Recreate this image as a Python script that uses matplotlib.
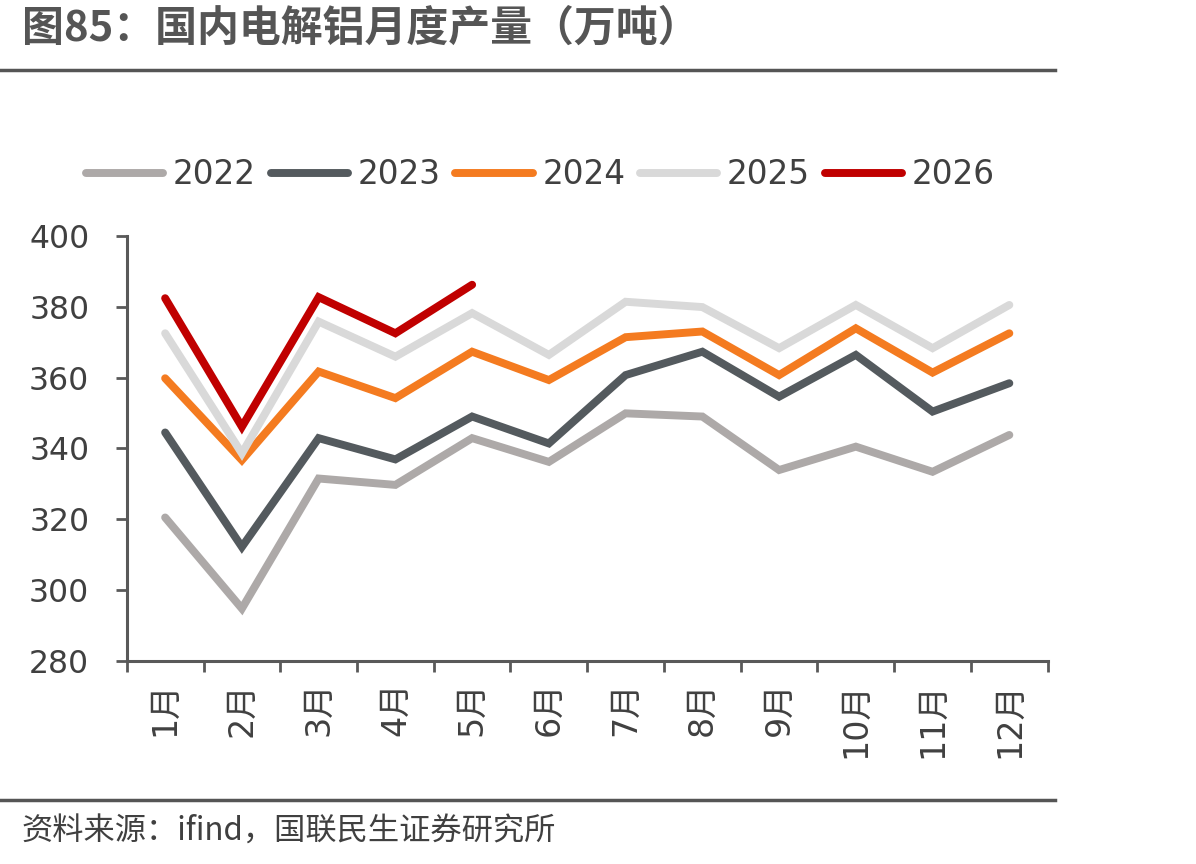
import matplotlib
matplotlib.use("Agg")
import matplotlib.pyplot as plt
from matplotlib.lines import Line2D

plt.rcParams['font.family'] = ['Noto Sans CJK SC', 'DejaVu Sans']
NUMFONT = ['DejaVu Sans', 'Noto Sans CJK SC']  # wide digits, CJK fallback

# data ---------------------------------------------------------------
months = ["1月", "2月", "3月", "4月", "5月", "6月",
          "7月", "8月", "9月", "10月", "11月", "12月"]
years = ["2022", "2023", "2024", "2025", "2026"]

y2022 = [320.5, 294.8, 331.5, 329.7, 342.9, 336.2, 349.9, 349.0, 333.9, 340.5, 333.4, 343.8]
y2023 = [344.5, 312.2, 342.9, 336.9, 349.0, 341.4, 360.7, 367.3, 354.6, 366.4, 350.4, 358.4]
y2024 = [359.8, 336.7, 361.7, 354.2, 367.3, 359.3, 371.4, 373.0, 360.7, 373.9, 361.4, 372.5]
y2025 = [372.5, 338.6, 375.8, 365.9, 378.2, 366.4, 381.4, 379.9, 368.3, 380.5, 368.3, 380.5]
y2026 = [382.4, 346.1, 382.7, 372.5, 386.2]

series = [y2022, y2023, y2024, y2025, y2026]
colors = ["#ADA9A8", "#545A5E", "#F47B20", "#D9D9D9", "#C00000"]

ytick_vals = [280, 300, 320, 340, 360, 380, 400]

# figure -------------------------------------------------------------
fig = plt.figure(figsize=(11.96, 8.64), dpi=100)
ax = fig.add_axes([0.106, 0.235, 0.770, 0.492])

x = list(range(1, 13))
for vals, c in zip(series, colors):
    ax.plot(x[:len(vals)], vals, color=c, lw=5.7, solid_joinstyle='miter',
            solid_capstyle='round')

ax.set_xlim(0.5, 12.5)
ax.set_ylim(280, 400)
ax.set_yticks(ytick_vals)
ax.set_yticklabels([str(v) for v in ytick_vals], family=NUMFONT, fontsize=22.7,
                   color="#404040")

ax.set_xticks(x)
ax.set_xticklabels(months, rotation=90, family=NUMFONT, fontsize=24,
                   color="#404040")
ax.set_xticks([i + 0.5 for i in range(0, 13)], minor=True)
ax.tick_params(axis='x', which='major', length=0, pad=15)
ax.tick_params(axis='x', which='minor', length=8, width=2, color="#595959",
               direction='out')
ax.tick_params(axis='y', length=8, width=2, color="#595959", pad=19)

for s in ["top", "right"]:
    ax.spines[s].set_visible(False)
for s in ["left", "bottom"]:
    ax.spines[s].set_color("#595959")
    ax.spines[s].set_linewidth(2.2)

handles = [Line2D([], [], color=c, lw=5.7, solid_capstyle='round') for c in colors]
fig.legend(handles, years, loc='center', bbox_to_anchor=(0.452, 0.798), ncol=5,
           frameon=False, prop={'family': NUMFONT, 'size': 23.6},
           handlelength=2.35, handletextpad=0.3, columnspacing=0.45,
           labelcolor="#404040")

# title and rules
fig.text(0.018, 0.967, "图85：国内电解铝月度产量（万吨）", fontsize=30.2,
         fontweight='bold', color="#555555", va='center', ha='left')
fig.add_artist(Line2D([0, 0.882], [0.919, 0.919], color="#555555", lw=2.5))
fig.add_artist(Line2D([0, 0.882], [0.074, 0.074], color="#555555", lw=2.5))
fig.text(0.018, 0.037, "资料来源：ifind，国联民生证券研究所", fontsize=22.5,
         color="#404040", va='center', ha='left')

fig.savefig("out.png", dpi=100)
